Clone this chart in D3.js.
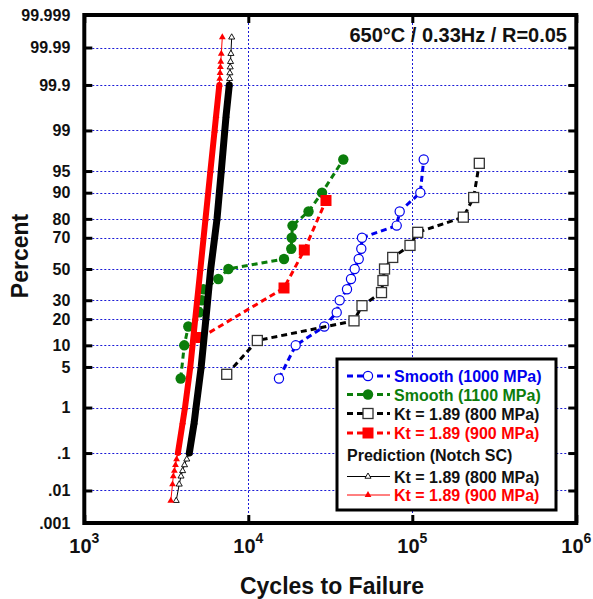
<!DOCTYPE html>
<html>
<head>
<meta charset="utf-8">
<script src="https://cdn.jsdelivr.net/npm/d3@7"></script>
<style>
  body { margin: 0; background: #fff; }
  text { font-family: Arial, "Liberation Sans", sans-serif; font-weight: bold; }
</style>
</head>
<body>
<div id="chart"></div>
<script>
// ---- data (cycles to failure, cumulative percent) ----
const smooth1000Cycles = [15380, 19450, 29070, 34600, 36070, 39980, 42290, 44550, 47130, 48870, 49350, 80340, 83770, 111900, 117400];
const smooth1000Pct    = [3.3, 10, 16.7, 23.3, 30, 36.7, 43.3, 50, 56.7, 63.3, 70, 76.7, 83.3, 90, 96.7];

const smooth1100Cycles = [3870, 4070, 4306, 5024, 5200, 5320, 6560, 7560, 16510, 18280, 18390, 18600, 23290, 28140, 37960];
const smooth1100Pct    = [3.3, 10, 16.7, 23.3, 30, 36.7, 43.3, 50, 56.7, 63.3, 70, 76.7, 83.3, 90, 96.7];

const notch800Cycles = [7386, 11350, 44110, 49350, 64900, 66250, 67700, 75950, 96840, 107900, 204700, 236700, 256200];
const notch800Pct    = [3.85, 11.5, 19.2, 26.9, 34.6, 42.3, 50, 57.7, 65.4, 73.1, 80.8, 88.5, 96.2];

const notch900Cycles = [5148, 16510, 21950, 29770];
const notch900Pct    = [12.5, 37.5, 62.5, 87.5];

// prediction (notch SC), percent points along the predicted curves
const predPct = [0.005, 0.015, 0.025, 0.035, 0.05, 0.07, 0.1, 0.5, 1, 5, 20, 50, 80, 95, 99, 99.5, 99.9, 99.93, 99.95, 99.965, 99.975, 99.985, 99.995];
const pred800Cycles = [3634, 3791, 3888, 3976, 4083, 4217, 4368, 4679, 4799, 5162, 5512, 5898, 6445, 6844, 7189, 7321, 7657, 7691, 7722, 7757, 7792, 7834, 7920];
const pred900Cycles = [3369, 3451, 3488, 3542, 3598, 3654, 3722, 3981, 4112, 4430, 4746, 5105, 5483, 5874, 6230, 6365, 6657, 6694, 6730, 6760, 6797, 6845, 6942];

const yTickPct    = [0.001, 0.01, 0.1, 1, 5, 10, 20, 30, 50, 70, 80, 90, 95, 99, 99.9, 99.99, 99.999];
const yTickLabels = [".001", ".01", ".1", "1", "5", "10", "20", "30", "50", "70", "80", "90", "95", "99", "99.9", "99.99", "99.999"];
const xTickValues = [1e3, 1e4, 1e5, 1e6];
const xTickExp    = ["3", "4", "5", "6"];

const chartTitle = "650°C / 0.33Hz / R=0.05";

// inverse normal cdf (Acklam) for the probability axis
function probit(p) {
  const a = [-3.969683028665376e+01, 2.209460984245205e+02, -2.759285104469687e+02, 1.383577518672690e+02, -3.066479806614716e+01, 2.506628277459239e+00];
  const b = [-5.447609879822406e+01, 1.615858368580409e+02, -1.556989798598866e+02, 6.680131188771972e+01, -1.328068155288572e+01];
  const c = [-7.784894002430293e-03, -3.223964580411365e-01, -2.400758277161838e+00, -2.549671348760182e+00, 4.374664141464968e+00, 2.938163982698783e+00];
  const d = [7.784695709041462e-03, 3.224671290700398e-01, 2.445134137142996e+00, 3.754408661907416e+00];
  const pl = 0.02425;
  let q, r;
  if (p < pl) {
    q = Math.sqrt(-2 * Math.log(p));
    return (((((c[0]*q+c[1])*q+c[2])*q+c[3])*q+c[4])*q+c[5]) / ((((d[0]*q+d[1])*q+d[2])*q+d[3])*q+1);
  }
  if (p > 1 - pl) {
    q = Math.sqrt(-2 * Math.log(1 - p));
    return -(((((c[0]*q+c[1])*q+c[2])*q+c[3])*q+c[4])*q+c[5]) / ((((d[0]*q+d[1])*q+d[2])*q+d[3])*q+1);
  }
  q = p - 0.5; r = q * q;
  return (((((a[0]*r+a[1])*r+a[2])*r+a[3])*r+a[4])*r+a[5])*q / (((((b[0]*r+b[1])*r+b[2])*r+b[3])*r+b[4])*r+1);
}

const width = 593, height = 599;
const plotLeft = 84.3, plotRight = 576.3, plotTop = 15, plotBottom = 523;

const svg = d3.select("#chart").append("svg")
  .attr("width", width)
  .attr("height", height);

const x = d3.scaleLog().domain([1e3, 1e6]).range([plotLeft, plotRight]);
const yz = d3.scaleLinear().domain([probit(1e-5), probit(1 - 1e-5)]).range([plotBottom, plotTop]);
const y = pct => yz(probit(pct / 100));

const blue = "#0000ee", green = "#0b7d0b", red = "#ff0000";

// grid lines
const grid = svg.append("g");
grid.selectAll("line.h")
  .data(yTickPct.slice(1, -1))
  .enter().append("line")
  .attr("x1", plotLeft).attr("x2", plotRight)
  .attr("y1", d => Math.round(y(d)) + 0.5).attr("y2", d => Math.round(y(d)) + 0.5)
  .attr("stroke", "#1a1ad6").attr("stroke-width", 1).attr("stroke-dasharray", "2,2");
grid.selectAll("line.v")
  .data(xTickValues.slice(1, -1))
  .enter().append("line")
  .attr("y1", plotTop).attr("y2", plotBottom)
  .attr("x1", d => Math.round(x(d)) + 0.5).attr("x2", d => Math.round(x(d)) + 0.5)
  .attr("stroke", "#1a1ad6").attr("stroke-width", 1).attr("stroke-dasharray", "2,2");

// experimental series
function drawSeries(cycles, pct, color, marker) {
  const pts = cycles.map((c, i) => [x(c), y(pct[i])]);
  svg.append("path")
    .attr("d", d3.line()(pts))
    .attr("fill", "none")
    .attr("stroke", color)
    .attr("stroke-width", 3)
    .attr("stroke-dasharray", "6,4");
  pts.forEach(p => drawMarker(svg, p[0], p[1], marker));
}

function drawMarker(g, px, py, marker) {
  if (marker === "openCircle") {
    g.append("circle").attr("cx", px).attr("cy", py).attr("r", 4.6)
      .attr("fill", "#fff").attr("stroke", blue).attr("stroke-width", 1.2);
  } else if (marker === "fillCircle") {
    g.append("circle").attr("cx", px).attr("cy", py).attr("r", 5.2)
      .attr("fill", green);
  } else if (marker === "openSquare") {
    g.append("rect").attr("x", px - 5).attr("y", py - 5).attr("width", 10).attr("height", 10)
      .attr("fill", "#fff").attr("stroke", "#333").attr("stroke-width", 1.3);
  } else if (marker === "fillSquare") {
    g.append("rect").attr("x", px - 5.5).attr("y", py - 5.5).attr("width", 11).attr("height", 11)
      .attr("fill", red);
  } else if (marker === "openTri") {
    g.append("path").attr("transform", `translate(${px},${py})`)
      .attr("d", d3.symbol(d3.symbolTriangle, 16)())
      .attr("fill", "#fff").attr("stroke", "#000").attr("stroke-width", 0.9);
  } else if (marker === "fillTri") {
    g.append("path").attr("transform", `translate(${px},${py})`)
      .attr("d", d3.symbol(d3.symbolTriangle, 20)())
      .attr("fill", red);
  }
}

drawSeries(smooth1000Cycles, smooth1000Pct, blue, "openCircle");
drawSeries(smooth1100Cycles, smooth1100Pct, green, "fillCircle");
drawSeries(notch800Cycles, notch800Pct, "#000", "openSquare");
drawSeries(notch900Cycles, notch900Pct, red, "fillSquare");

// prediction curves: thin line, triangle markers, dense band in the middle
function drawPrediction(cycles, color, marker, bandWidth) {
  const pts = cycles.map((c, i) => [x(c), y(predPct[i])]);
  svg.append("path").attr("d", d3.line()(pts))
    .attr("fill", "none").attr("stroke", color).attr("stroke-width", 1);
  pts.forEach(p => drawMarker(svg, p[0], p[1], marker));
  const band = pts.filter((p, i) => predPct[i] >= 0.1 && predPct[i] <= 99.9);
  svg.append("path").attr("d", d3.line()(band))
    .attr("fill", "none").attr("stroke", color).attr("stroke-width", bandWidth)
    .attr("stroke-linecap", "round");
}
drawPrediction(pred800Cycles, "#000", "openTri", 7);
drawPrediction(pred900Cycles, red, "fillTri", 6);

// axes (ticks pointing inward)
const yAxisL = d3.axisLeft(yz).tickValues(yTickPct.map(p => probit(p / 100))).tickFormat((d, i) => yTickLabels[i]).tickSize(-8).tickPadding(14);
const yAxisR = d3.axisRight(yz).tickValues(yTickPct.map(p => probit(p / 100))).tickFormat("").tickSize(-8);
const xAxisB = d3.axisBottom(x).tickValues(xTickValues).tickFormat("").tickSize(-8);
const xAxisT = d3.axisTop(x).tickValues(xTickValues).tickFormat("").tickSize(-8);

function styleAxis(g) {
  g.select(".domain").remove();
  g.selectAll(".tick line").attr("stroke", "#000").attr("stroke-width", 3);
  g.selectAll("text").attr("font-size", 16).attr("fill", "#111");
}
svg.append("g").attr("transform", `translate(${plotLeft},0)`).call(yAxisL).call(styleAxis);
svg.append("g").attr("transform", `translate(${plotRight},0)`).call(yAxisR).call(styleAxis);
svg.append("g").attr("transform", `translate(0,${plotBottom})`).call(xAxisB).call(styleAxis);
svg.append("g").attr("transform", `translate(0,${plotTop})`).call(xAxisT).call(styleAxis);

// x tick labels 10^n
const xl = svg.append("g").selectAll("text")
  .data(xTickValues)
  .enter().append("text")
  .attr("x", d => x(d))
  .attr("y", 553)
  .attr("text-anchor", "middle")
  .attr("font-size", 20)
  .attr("fill", "#111");
xl.append("tspan").text("10");
xl.append("tspan").attr("dy", -10).attr("font-size", 14).text((d, i) => xTickExp[i]);

// frame
svg.append("rect")
  .attr("x", plotLeft).attr("y", plotTop)
  .attr("width", plotRight - plotLeft).attr("height", plotBottom - plotTop)
  .attr("fill", "none").attr("stroke", "#000").attr("stroke-width", 4);

// titles
svg.append("text")
  .attr("x", 332).attr("y", 594)
  .attr("text-anchor", "middle")
  .attr("font-size", 23)
  .attr("fill", "#111")
  .text("Cycles to Failure");

svg.append("text")
  .attr("transform", "translate(28,256) rotate(-90)")
  .attr("text-anchor", "middle")
  .attr("font-size", 23)
  .attr("fill", "#111")
  .text("Percent");

svg.append("text")
  .attr("x", 567).attr("y", 42)
  .attr("text-anchor", "end")
  .attr("font-size", 20)
  .attr("fill", "#111")
  .text(chartTitle);

// legend
const legendItems = [
  { label: "Smooth (1000 MPa)", color: blue, marker: "openCircle", dash: true, y: 376 },
  { label: "Smooth (1100 MPa)", color: green, marker: "fillCircle", dash: true, y: 394.5 },
  { label: "Kt = 1.89 (800 MPa)", color: "#111", marker: "openSquare", dash: true, y: 413.5 },
  { label: "Kt = 1.89 (900 MPa)", color: red, marker: "fillSquare", dash: true, y: 433 },
  { label: "Kt = 1.89 (800 MPa)", color: "#111", marker: "openTri", dash: false, y: 476.5 },
  { label: "Kt = 1.89 (900 MPa)", color: red, marker: "fillTri", dash: false, y: 495 },
];

const legend = svg.append("g");
legend.append("rect")
  .attr("x", 337).attr("y", 359)
  .attr("width", 219).attr("height", 151)
  .attr("fill", "#fff").attr("stroke", "#000").attr("stroke-width", 3);

legendItems.forEach(d => {
  legend.append("line")
    .attr("x1", 347).attr("x2", 390)
    .attr("y1", d.y).attr("y2", d.y)
    .attr("stroke", d.color === "#111" ? "#000" : d.color)
    .attr("stroke-width", d.dash ? 3 : 1)
    .attr("stroke-dasharray", d.dash ? "6,4" : null);
  drawMarker(legend, 368, d.y, d.marker);
  legend.append("text")
    .attr("x", 394).attr("y", d.y + 6)
    .attr("font-size", 16)
    .attr("fill", d.color)
    .text(d.label);
});
legend.append("text")
  .attr("x", 347).attr("y", 461)
  .attr("font-size", 16)
  .attr("fill", "#111")
  .text("Prediction (Notch SC)");
</script>
</body>
</html>
